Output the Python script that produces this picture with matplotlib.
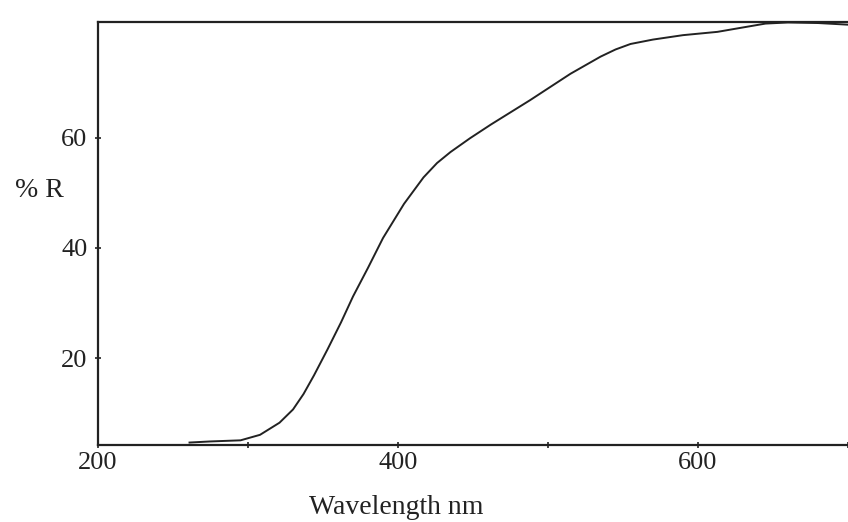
import numpy as np
import matplotlib.pyplot as plt

# Reflectance spectrum
wavelength = [261, 275, 295, 308, 321, 330, 337, 344, 353, 362, 370, 380, 390,
              404, 417, 426, 435, 448, 462, 488, 515, 535, 545, 555, 570, 590, 613,
              630, 645, 660, 680, 700]
reflectance = [4.7, 4.9, 5.1, 6.1, 8.3, 10.7, 13.5, 16.9, 21.6, 26.5, 31.2, 36.4, 41.8,
               48.0, 52.8, 55.4, 57.4, 59.9, 62.4, 66.8, 71.6, 74.7, 76.0, 77.0, 77.8,
               78.6, 79.2, 80.0, 80.7, 80.9, 80.8, 80.5]

x_ticks = [200, 300, 400, 500, 600, 700]
x_labels = ['200', '', '400', '', '600', '']
y_ticks = [20, 40, 60]

plt.rcParams['font.family'] = ['Liberation Serif', 'DejaVu Serif']

fig = plt.figure(figsize=(8.48, 5.22), dpi=100)
ax = fig.add_axes([0.1156, 0.148, 0.8844, 0.81])

ax.plot(wavelength, reflectance, color='#222222', lw=1.4)

ax.set_xlim(200, 700)
ax.set_ylim(4.3, 81)
ax.set_xticks(x_ticks)
ax.set_xticklabels(x_labels)
ax.set_yticks(y_ticks)

ax.tick_params(axis='both', direction='inout', length=5, width=1.2, colors='#222222',
               labelsize=19)
ax.tick_params(axis='x', pad=3)
ax.tick_params(axis='y', pad=5)

for side in ['left', 'bottom', 'top']:
    ax.spines[side].set_linewidth(1.6)
    ax.spines[side].set_color('#222222')
ax.spines['right'].set_visible(False)

fig.text(0.467, 0.027, 'Wavelength nm', fontsize=20, color='#222222', ha='center', va='center')
fig.text(0.046, 0.636, '% R', fontsize=20, color='#222222', ha='center', va='center')

fig.savefig('out.png', dpi=100, facecolor='white')
